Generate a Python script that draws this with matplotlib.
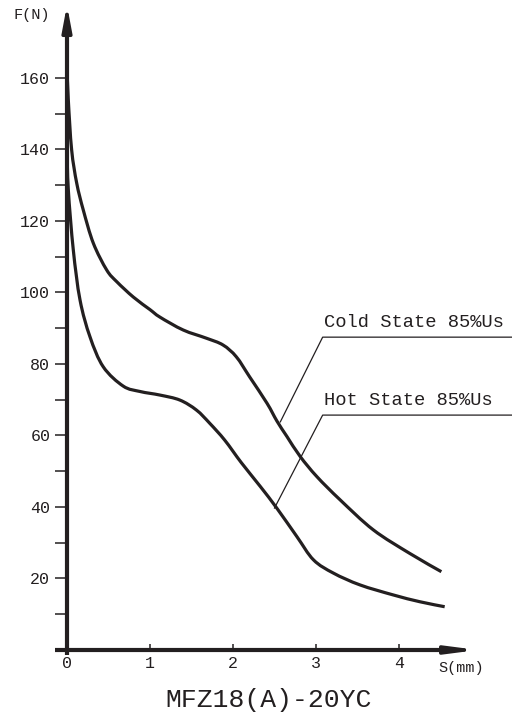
import numpy as np
import matplotlib
matplotlib.use("Agg")
import matplotlib.pyplot as plt
from matplotlib.path import Path
from matplotlib.patches import PathPatch

# --- Data ---
cold_s = [0.0, 0.016, 0.056, 0.117, 0.197, 0.317, 0.478, 0.6, 0.8, 1.0, 1.12, 1.40, 1.68,
          1.88, 2.04, 2.20, 2.41, 2.53, 2.65, 2.81, 3.01, 3.29, 3.69, 4.13, 4.51]
cold_f = [163, 153.8, 139.9, 130.6, 123, 113.8, 106.3, 103, 98.7, 95.2, 93.1, 89.5, 87.2,
          85.3, 82, 76.4, 69, 64, 59.7, 54.1, 48.5, 42, 33.6, 27, 21.9]
hot_s = [0.0, 0.016, 0.076, 0.157, 0.277, 0.437, 0.678, 0.88, 1.12, 1.36, 1.56, 1.72,
         1.90, 2.10, 2.33, 2.53, 2.77, 2.97, 3.21, 3.53, 3.93, 4.25, 4.55]
hot_f = [140, 128.7, 111.9, 97.9, 87.6, 79.2, 73.8, 72.3, 71.3, 69.9, 67.1, 63.4,
         58.7, 52.4, 45.7, 39.6, 31.7, 25.2, 21.5, 18.2, 15.4, 13.5, 12.1]

y_major = [20, 40, 60, 80, 100, 120, 140, 160]
y_minor = [10, 30, 50, 70, 90, 110, 130, 150]
x_major = [0, 1, 2, 3, 4]

labels = ["Cold State 85%Us", "Hot State 85%Us"]
title = "MFZ18(A)-20YC"

INK = "#231f20"
FONT = "Liberation Mono"


def smooth_path(xs, ys):
    # Catmull-Rom through the read points, drawn as cubic Bezier segments
    p = np.column_stack([xs, ys]).astype(float)
    ext = np.vstack([p[0], p, p[-1]])
    verts = [p[0]]
    codes = [Path.MOVETO]
    for i in range(1, len(ext) - 2):
        p0, p1, p2, p3 = ext[i - 1], ext[i], ext[i + 1], ext[i + 2]
        verts += [p1 + (p2 - p0) / 6, p2 - (p3 - p1) / 6, p2]
        codes += [Path.CURVE4] * 3
    return Path(verts, codes)


fig = plt.figure(figsize=(5.12, 7.24), dpi=100)
ax = fig.add_axes([0, 0, 1, 1])
ax.set_xlim(-0.807, 5.361)
ax.set_ylim(-20.7, 181.8)

for side in ["top", "right"]:
    ax.spines[side].set_visible(False)
ax.spines["left"].set_position(("data", 0))
ax.spines["bottom"].set_position(("data", 0))
ax.spines["left"].set_bounds(-1.5, 172)
ax.spines["bottom"].set_bounds(-0.15, 4.6)
for side in ["left", "bottom"]:
    ax.spines[side].set_linewidth(3.0)
    ax.spines[side].set_color(INK)
    ax.spines[side].set_capstyle("butt")

# arrow heads
ax.annotate("", xy=(0, 180.4), xytext=(0, 170),
            arrowprops=dict(arrowstyle="-|>,head_length=1.5,head_width=0.28",
                            color=INK, lw=2.5, shrinkA=0, shrinkB=0))
ax.annotate("", xy=(4.95, 0), xytext=(4.55, 0),
            arrowprops=dict(arrowstyle="-|>,head_length=1.7,head_width=0.22",
                            color=INK, lw=2.5, shrinkA=0, shrinkB=0))

ax.set_yticks(y_major)
ax.set_yticks(y_minor, minor=True)
ax.set_xticks(x_major)
ax.tick_params(axis="y", which="both", direction="out", length=9, width=1.1,
               color=INK, pad=3, labelsize=12, labelcolor=INK)
ax.tick_params(axis="x", which="major", direction="in", length=4.5, width=1.1,
               color=INK, pad=4, labelsize=12, labelcolor=INK)
for lab in ax.get_xticklabels() + ax.get_yticklabels():
    lab.set_family(FONT)

for xs, ys in [(cold_s, cold_f), (hot_s, hot_f)]:
    ax.add_patch(PathPatch(smooth_path(xs, ys), facecolor="none", edgecolor=INK,
                           lw=2.3, joinstyle="round", capstyle="butt"))

# leader lines
ax.plot([2.57, 3.08, 5.4], [63.8, 87.5, 87.5], color=INK, lw=0.9)
ax.plot([2.5, 3.08, 5.4], [39.7, 65.7, 65.7], color=INK, lw=0.9)
ax.text(3.1, 89.2, labels[0], family=FONT, fontsize=13.5, color=INK, va="bottom", ha="left")
ax.text(3.1, 67.4, labels[1], family=FONT, fontsize=13.5, color=INK, va="bottom", ha="left")

ax.text(-0.65, 177.5, "F(N)", family=FONT, fontsize=11, color=INK, va="center", ha="left")
ax.text(4.47, -5.0, "S(mm)", family=FONT, fontsize=11, color=INK, va="center", ha="left")
ax.text(2.43, -14.0, title, family=FONT, fontsize=19, color=INK, va="center", ha="center")

fig.savefig("out.png", dpi=100)
